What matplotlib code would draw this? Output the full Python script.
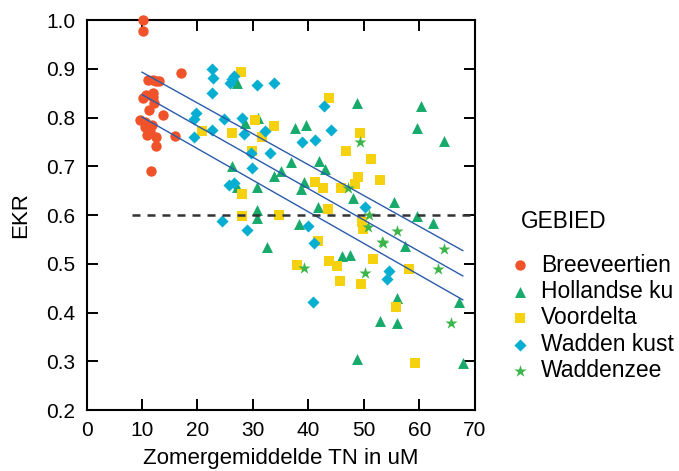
import numpy as np
import matplotlib
matplotlib.use('Agg')
import matplotlib.pyplot as plt

plt.rcParams['font.family'] = ['Liberation Sans', 'DejaVu Sans']

# data (TN in uM, EKR)
bree_x = [10.1, 10.1, 17.0, 11.1, 11.9, 12.6, 13.0, 10.2, 10.8, 11.9, 12.2, 11.3, 13.8,
          9.6, 10.5, 11.1, 11.5, 10.9, 12.5, 15.9, 12.6, 11.7, 11.9, 10.5, 11.8]
bree_y = [1.0, 0.978, 0.891, 0.876, 0.877, 0.875, 0.874, 0.839, 0.846, 0.851, 0.830, 0.815, 0.805,
          0.795, 0.791, 0.778, 0.772, 0.764, 0.761, 0.762, 0.742, 0.691, 0.842, 0.780, 0.785]

holl_x = [27.1, 30.95, 28.6, 37.6, 39.5, 48.8, 60.3, 59.5, 64.4, 26.3, 36.8, 41.9, 43.0,
          35.0, 33.8, 30.8, 27.2, 39.1, 38.6, 48.0, 41.8, 55.4, 30.8, 30.8, 38.2, 59.6,
          62.5, 32.6, 46.0, 47.5, 57.3, 56.0, 52.8, 56.0, 48.7, 67.1, 67.8]
holl_y = [0.870, 0.798, 0.788, 0.778, 0.785, 0.829, 0.824, 0.778, 0.752, 0.701, 0.708, 0.711, 0.694,
          0.691, 0.681, 0.658, 0.658, 0.668, 0.653, 0.634, 0.616, 0.626, 0.610, 0.593, 0.582, 0.597,
          0.584, 0.535, 0.516, 0.518, 0.536, 0.430, 0.383, 0.378, 0.305, 0.422, 0.296]

voor_x = [27.8, 20.8, 26.2, 30.4, 31.6, 33.7, 43.7, 49.3, 29.9, 28.1, 28.1, 34.6, 46.7,
          51.3, 49.0, 48.4, 41.2, 42.7, 45.9, 52.9, 43.6, 49.6, 49.9, 41.8, 38.0, 43.7,
          45.2, 51.6, 45.7, 49.5, 58.1, 55.7, 59.2]
voor_y = [0.894, 0.772, 0.768, 0.794, 0.759, 0.783, 0.839, 0.768, 0.731, 0.644, 0.597, 0.600, 0.732,
          0.714, 0.677, 0.664, 0.668, 0.655, 0.655, 0.672, 0.612, 0.586, 0.571, 0.547, 0.497, 0.506,
          0.495, 0.510, 0.465, 0.458, 0.489, 0.411, 0.297]

wkust_x = [22.7, 22.8, 26.3, 26.6, 25.9, 22.7, 30.8, 33.8, 19.7, 19.4, 19.4, 24.8, 22.6,
           28.1, 28.4, 32.2, 29.6, 33.1, 29.9, 25.7, 26.6, 24.4, 42.8, 38.9, 41.2, 44.1,
           29.0, 40.0, 41.0, 50.2, 54.5, 54.1, 40.8]
wkust_y = [0.900, 0.882, 0.879, 0.885, 0.871, 0.851, 0.867, 0.870, 0.809, 0.797, 0.759, 0.797, 0.774,
           0.798, 0.766, 0.772, 0.728, 0.727, 0.697, 0.662, 0.665, 0.587, 0.824, 0.749, 0.754, 0.774,
           0.569, 0.578, 0.543, 0.617, 0.485, 0.468, 0.422]

wzee_x = [49.3, 47.2, 50.9, 50.7, 56.0, 53.2, 53.5, 64.5, 39.2, 50.1, 63.4, 65.6]
wzee_y = [0.749, 0.655, 0.599, 0.576, 0.568, 0.545, 0.542, 0.530, 0.491, 0.482, 0.489, 0.379]

# regression line with its band (end points)
fit_x = [10.0, 67.8]
fit_mid = [0.847, 0.475]
fit_up = [0.893, 0.527]
fit_lo = [0.801, 0.426]

threshold = 0.6
threshold_x = [8.2, 70]

labels = ['Breeveertien', 'Hollandse ku', 'Voordelta', 'Wadden kust', 'Waddenzee']

fig = plt.figure(figsize=(6.79, 4.71), dpi=100)
ax = fig.add_axes([86.5 / 679, 1 - 410 / 471, (475 - 86.5) / 679, (410 - 20) / 471])

groups = [
    (bree_x, bree_y, 'o', '#f0532a', 56),
    (holl_x, holl_y, '^', '#17aa6b', 62),
    (voor_x, voor_y, 's', '#f5d10f', 54),
    (wkust_x, wkust_y, 'D', '#06afd2', 38),
    (wzee_x, wzee_y, '*', '#3cb54a', 85),
]
for (x, y, m, c, s), lab in zip(groups, labels):
    ax.scatter(x, y, marker=m, s=s, color=c, linewidths=0, label=lab,
               clip_on=False, zorder=3)

for yy in (fit_up, fit_mid, fit_lo):
    ax.plot(fit_x, yy, color='#2a5caa', lw=1.0, zorder=4)

ax.plot(threshold_x, [threshold, threshold], color='#333333', lw=1.8,
        dashes=(3.2, 2.8), zorder=5)

ax.set_xlim(0, 70)
ax.set_ylim(0.2, 1.0)
ax.set_xticks(np.arange(0, 71, 10))
ax.set_yticks(np.arange(0.2, 1.01, 0.1))
ax.set_yticklabels(['%.1f' % v for v in np.arange(0.2, 1.01, 0.1)])
ax.tick_params(direction='in', length=8, width=1.4, top=True, right=True,
               labelsize=15, pad=8)
for sp in ax.spines.values():
    sp.set_linewidth(1.5)

ax.set_xlabel('Zomergemiddelde TN in uM', fontsize=16, labelpad=6)
ax.set_ylabel('EKR', fontsize=16, labelpad=11)

fig.text(521 / 679, 1 - 222 / 471, 'GEBIED', fontsize=16.3, va='center', ha='left')
leg = fig.legend(loc='upper left', bbox_to_anchor=(511 / 679, 1 - 253.5 / 471),
                 fontsize=16.5, frameon=False, borderpad=0, borderaxespad=0,
                 scatterpoints=1, handlelength=0.75, handletextpad=0.55,
                 labelspacing=0.15)

fig.savefig('out.png', dpi=100)
